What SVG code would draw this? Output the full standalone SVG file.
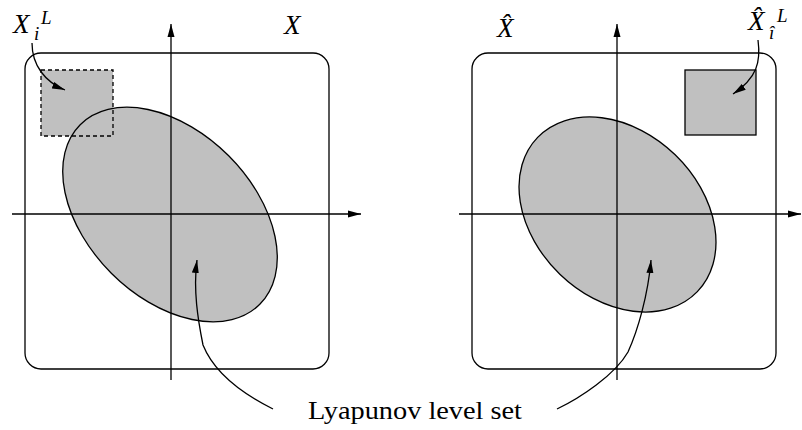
<svg xmlns="http://www.w3.org/2000/svg" width="802" height="430" viewBox="0 0 802 430">
<style>
.ln{fill:none;stroke:#000;stroke-width:1.3}
.sh{fill:#c0c0c0;stroke:#000;stroke-width:1.3}
.fl{fill:#c0c0c0;stroke:none}
.dash{fill:none;stroke:#000;stroke-width:1.3;stroke-dasharray:4 3}
.mi{font-family:"Liberation Serif","Times New Roman",serif;font-style:italic;fill:#000}
.rm{font-family:"Liberation Serif","Times New Roman",serif;fill:#000}
</style>
<defs>
<marker id="ah" markerUnits="userSpaceOnUse" markerWidth="14" markerHeight="8" refX="13" refY="4" orient="auto">
<path d="M0,0.5 L13,4 L0,7.5 Z" fill="#000"/>
</marker>
</defs>
<rect width="802" height="430" fill="#fff"/>
<g id="panel-left">
<rect class="ln" x="25" y="53" width="304" height="316" rx="16"/>
<rect id="square-left-fill" class="fl" x="41" y="70" width="72" height="66"/>
<ellipse id="ellipse-left" class="sh" cx="0" cy="0" rx="127" ry="83" transform="translate(170 214.5) rotate(45)"/>
<rect id="square-left" class="dash" x="41" y="70" width="72" height="66"/>
</g>
<g id="panel-right">
<rect class="ln" x="472" y="53" width="304" height="316" rx="16"/>
<ellipse id="ellipse-right" class="sh" cx="0" cy="0" rx="111" ry="83" transform="translate(617.5 214.5) rotate(44)"/>
<rect id="square-right" class="sh" x="685" y="70" width="71" height="65"/>
</g>
<g id="axes">
<line class="ln" x1="171" y1="380" x2="171" y2="24" marker-end="url(#ah)"/>
<line class="ln" x1="12" y1="214" x2="361" y2="214" marker-end="url(#ah)"/>
<line class="ln" x1="617" y1="380" x2="617" y2="24" marker-end="url(#ah)"/>
<line class="ln" x1="459" y1="214" x2="801" y2="214" marker-end="url(#ah)"/>
</g>
<g id="connectors">
<path class="ln" d="M32,43 C32,65 45,82 65,90" marker-end="url(#ah)"/>
<path class="ln" d="M758,40 C761,62 757,78 733,94" marker-end="url(#ah)"/>
<path class="ln" d="M273,409 C245,395 215,375 203,345 C198,320 193,290 197,260" marker-end="url(#ah)"/>
<path class="ln" d="M557,409 C580,398 615,375 628,352 C638,330 648,295 651,260" marker-end="url(#ah)"/>
</g>
<g id="label-XiL">
<text class="mi" x="13" y="33" font-size="27">X</text>
<text class="mi" x="41" y="24" font-size="19">L</text>
<text class="mi" x="34" y="40" font-size="19">i</text>
</g>
<g id="label-X">
<text class="mi" x="284" y="34" font-size="27">X</text>
</g>
<g id="label-Xhat">
<text class="mi" x="497" y="37" font-size="27">X̂</text>
</g>
<g id="label-XhatL">
<text class="mi" x="748" y="30" font-size="27">X̂</text>
<text class="mi" x="777" y="22" font-size="19">L</text>
<text class="mi" x="769" y="39" font-size="19">î</text>
</g>
<g id="label-lyapunov">
<text class="rm" x="308" y="419" font-size="26" textLength="214" lengthAdjust="spacingAndGlyphs">Lyapunov level set</text>
</g>
</svg>
